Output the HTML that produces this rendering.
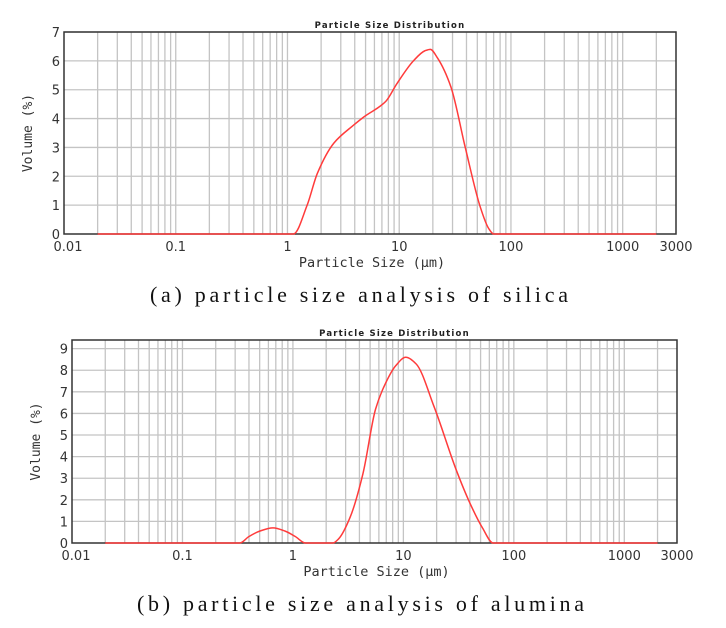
<!DOCTYPE html>
<html><head><meta charset="utf-8"><style>
body{margin:0;background:#fff}
svg{display:block}
</style></head><body>
<svg id="svg" width="726" height="628" viewBox="0 0 726 628" xmlns="http://www.w3.org/2000/svg"></svg>
<script>
const silicaSizes=[0.02,1.0,1.13,1.5,1.85,2.6,3.9,4.8,7.6,9.5,13.4,17,19,22,29,39,53,63,70,2000];
const silicaVals=[0,0,0,1.0,2.1,3.15,3.77,4.05,4.6,5.2,6.0,6.35,6.4,6.1,5.1,3.0,0.95,0.2,0,0];
const aluminaSizes=[0.02,0.33,0.4,0.5,0.66,0.85,1.05,1.3,2.3,2.6,3.3,4.3,5.6,6.9,8.5,10.5,13,19,30,40,52,65,2000];
const aluminaVals=[0,0,0.3,0.55,0.7,0.55,0.3,0,0,0.2,1.2,3.2,6.2,7.4,8.2,8.6,8.3,6.3,3.4,1.85,0.7,0,0];
const silicaYTicks=[0,1,2,3,4,5,6,7];
const aluminaYTicks=[0,1,2,3,4,5,6,7,8,9];
const xTickVals=[0.01,0.1,1,10,100,1000,3000];
const xTickLabels=["0.01","0.1","1","10","100","1000","3000"];

const NS="http://www.w3.org/2000/svg";
const svg=document.getElementById('svg');
function mk(tag,attrs,parent){const e=document.createElementNS(NS,tag);for(const k in attrs)e.setAttribute(k,attrs[k]);(parent||svg).appendChild(e);return e;}

function monotonePath(pts){
  const n=pts.length,d=[],m=[];
  for(let i=0;i<n-1;i++)d.push((pts[i+1][1]-pts[i][1])/(pts[i+1][0]-pts[i][0]));
  m[0]=d[0];m[n-1]=d[n-2];
  for(let i=1;i<n-1;i++){
    if(d[i-1]*d[i]<=0)m[i]=0;else{const w1=2*(pts[i+1][0]-pts[i][0])+(pts[i][0]-pts[i-1][0]),w2=(pts[i+1][0]-pts[i][0])+2*(pts[i][0]-pts[i-1][0]);m[i]=(w1+w2)/(w1/d[i-1]+w2/d[i]);}
  }
  let s='M'+pts[0][0]+','+pts[0][1];
  for(let i=0;i<n-1;i++){
    const h=(pts[i+1][0]-pts[i][0])/3;
    s+=' C'+(pts[i][0]+h)+','+(pts[i][1]+m[i]*h)+' '+(pts[i+1][0]-h)+','+(pts[i+1][1]-m[i+1]*h)+' '+pts[i+1][0]+','+pts[i+1][1];
  }
  return s;
}

function chart(cfg){
  const g=mk('g',{});
  
  
  const {L,T,R,B,ymax}=cfg;
  const lmin=Math.log10(0.01),lmax=Math.log10(3000);
  const xs=v=>L+(Math.log10(v)-lmin)/(lmax-lmin)*(R-L);
  const ys=v=>B-v/ymax*(B-T);
  for(let d=-2;d<=3;d++){for(let m=1;m<10;m++){const v=m*Math.pow(10,d);if(v<=0.0100001||v>=2999)continue;
    const l=mk('line',{x1:xs(v),x2:xs(v),y1:T,y2:B,stroke:'#c4c4c4','stroke-width':1.3},g);
    }}
  cfg.yticks.forEach(t=>{
    if(t>0){const l=mk('line',{x1:L,x2:R,y1:ys(t),y2:ys(t),stroke:'#c4c4c4','stroke-width':1.3},g);
    }
    const tx=mk('text',{x:L-4,y:ys(t)+5,'text-anchor':'end','font-family':'DejaVu Sans, Liberation Sans, sans-serif','font-size':13,fill:'#333'},g);
    tx.textContent=t;
  });
  xTickVals.forEach((v,i)=>{
    const tx=mk('text',{x:xs(v)+(i==0?4:0),y:B+17,'text-anchor':'middle','font-family':'DejaVu Sans, Liberation Sans, sans-serif','font-size':13,fill:'#333'},g);
    tx.textContent=xTickLabels[i];
  });
  const fr=mk('rect',{x:L,y:T,width:R-L,height:B-T,fill:'none',stroke:'#333','stroke-width':1.5},g);
  
  const pts=cfg.sizes.map((s,i)=>[xs(s),ys(cfg.vals[i])]);
  const c=mk('path',{d:monotonePath(pts),fill:'none',stroke:'#ff3b3b','stroke-width':1.5},g);
  
  const tt=mk('text',{x:(L+R)/2+20,y:T-4,'text-anchor':'middle','font-family':'DejaVu Sans, sans-serif','font-size':8.5,'font-weight':'bold','letter-spacing':'1.2',fill:'#222'},g);
  tt.textContent='Particle Size Distribution';
  const yt=mk('text',{x:0,y:0,transform:'translate('+(L-32)+','+((T+B)/2)+') rotate(-90)','text-anchor':'middle','font-family':'DejaVu Sans Mono, Liberation Mono, monospace','font-size':13,fill:'#333'},g);
  yt.textContent='Volume (%)';
  const xt=mk('text',{x:(L+R)/2+2,y:B+33,'text-anchor':'middle','font-family':'DejaVu Sans Mono, Liberation Mono, monospace','font-size':13.5,fill:'#333'},g);
  xt.textContent='Particle Size (µm)';
  const cap=mk('text',{x:cfg.capX,y:cfg.capY,'font-family':'Liberation Serif, Noto Serif CJK SC, serif','font-size':22,fill:'#111',textLength:cfg.capW,lengthAdjust:'spacing'},g);
  cap.textContent=cfg.caption;
}
chart({name:'silica-chart',L:64,T:32,R:676,B:234,ymax:7,yticks:silicaYTicks,sizes:silicaSizes,vals:silicaVals,caption:'(a) particle size analysis of silica',capX:150,capY:302,capW:418});
chart({name:'alumina-chart',L:72,T:340,R:677,B:543,ymax:9.4,yticks:aluminaYTicks,sizes:aluminaSizes,vals:aluminaVals,caption:'(b) particle size analysis of alumina',capX:137,capY:611,capW:447});
</script>
</body></html>
